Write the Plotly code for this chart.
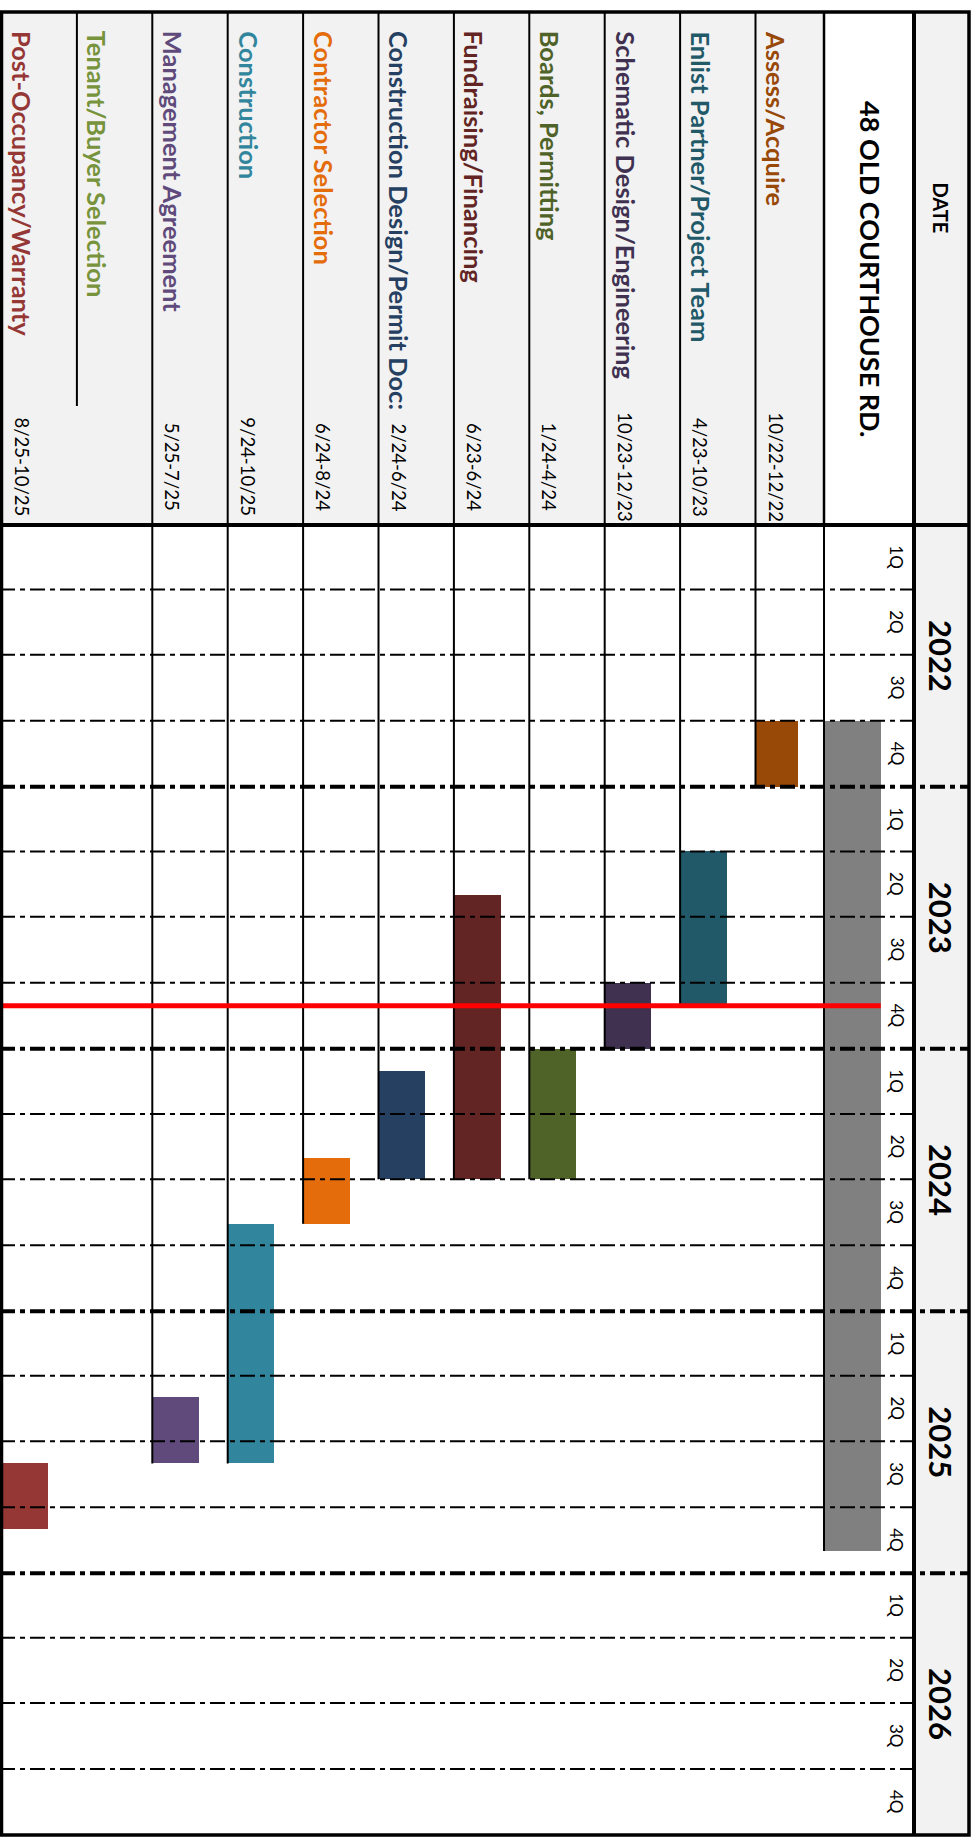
import pandas as pd
import plotly.graph_objects as go

W, H = 978, 1841

# ---------------- data ----------------
tasks = ["Assess/Acquire", "Enlist Partner/Project Team", "Schematic Design/Engineering",
         "Boards, Permitting", "Fundraising/Financing", "Construction Design/Permit Doc:",
         "Contractor Selection", "Construction", "Management Agreement",
         "Tenant/Buyer Selection", "Post-Occupancy/Warranty"]
date_labels = ["10/22-12/22", "4/23-10/23", "10/23-12/23", "1/24-4/24", "6/23-6/24",
               "2/24-6/24", "6/24-8/24", "9/24-10/25", "5/25-7/25", "", "8/25-10/25"]
bar_start = ["2022-10-01", "2023-04-01", "2023-10-01", "2024-01-01", "2023-06-01",
             "2024-02-01", "2024-06-01", "2024-09-01", "2025-05-01", None, "2025-08-01"]
bar_end = ["2023-01-01", "2023-11-01", "2024-01-01", "2024-07-01", "2024-07-01",
           "2024-07-01", "2024-09-01", "2025-08-01", "2025-08-01", None, "2025-11-01"]
colors = ["#984807", "#215968", "#403151", "#4F6228", "#632523", "#254061",
          "#E46C0A", "#31859C", "#604A7B", "#77933C", "#953735"]
project_name = "48 OLD COURTHOUSE RD."
project_start = "2022-10-01"
project_end = "2025-12-01"
project_color = "#808080"
today = "2023-11-02"
years = [2022, 2023, 2024, 2025, 2026]
quarter_labels = ["1Q", "2Q", "3Q", "4Q"]
header_label = "DATE"

# ---------------- layout geometry (pixels) ----------------
LEFT, RIGHT, TOP, BOTTOM = 1.5, 969.0, 12.0, 1835.0
HEAD_BOTTOM = 525.0
DATE_CELL_TOP = 406.0
COL_W = 75.4
TITLE_L, DATE_L = 824.0, 914.0
n = len(tasks)
col_left = [LEFT + COL_W * (n - 1 - i) for i in range(n)]
col_right = [TITLE_L if i == 0 else col_left[i] + COL_W for i in range(n)]
FONT = "Lato, Carlito, Calibri, sans-serif"
DASH = "15px,5px,5px,5px"


def py(p):
    return 1 - p / H


t0 = f"{years[0]}-01-01"
t1 = f"{years[-1] + 1}-01-01"

fig = go.Figure()

# ---------------- bars ----------------
bx, by, bb, bw, bc = [], [], [], [], []
for i in range(n):
    if bar_start[i] is None:
        continue
    s, e = pd.Timestamp(bar_start[i]), pd.Timestamp(bar_end[i])
    w = 0.62 * (col_right[i] - col_left[i])
    bx.append(col_left[i] + w / 2)
    by.append((e - s).total_seconds() * 1000)
    bb.append(bar_start[i])
    bw.append(w)
    bc.append(colors[i])
pw = 0.63 * (DATE_L - TITLE_L)
bx.append(TITLE_L + pw / 2)
by.append((pd.Timestamp(project_end) - pd.Timestamp(project_start)).total_seconds() * 1000)
bb.append(project_start)
bw.append(pw)
bc.append(project_color)
fig.add_trace(go.Bar(x=bx, y=by, base=bb, width=bw, marker=dict(color=bc, line=dict(width=0)),
                     orientation="v", hoverinfo="skip", showlegend=False))

# vertical edge lines from timeline start to the end of each bar
vx, vy = [], []
for i in range(n):
    if bar_end[i] is None or i == n - 1:
        continue
    vx += [col_left[i], col_left[i], None]
    vy += [t0, bar_end[i], None]
vx += [TITLE_L, TITLE_L, None]
vy += [t0, project_end, None]
fig.add_trace(go.Scatter(x=vx, y=vy, mode="lines", line=dict(color="black", width=2),
                         hoverinfo="skip", showlegend=False))

# quarter gridlines and year gridlines
qx, qy, yx, yy = [], [], [], []
for yr in years:
    for q in range(1, 4):
        d = f"{yr}-{3 * q + 1:02d}-01"
        qx += [0, DATE_L, None]
        qy += [d, d, None]
    if yr != years[0]:
        d = f"{yr}-01-01"
        yx += [0, RIGHT, None]
        yy += [d, d, None]
fig.add_trace(go.Scatter(x=qx, y=qy, mode="lines", line=dict(color="black", width=2, dash=DASH),
                         hoverinfo="skip", showlegend=False))
fig.add_trace(go.Scatter(x=yx, y=yy, mode="lines", line=dict(color="black", width=4, dash=DASH),
                         hoverinfo="skip", showlegend=False))

# today line
fig.add_trace(go.Scatter(x=[0, TITLE_L + pw], y=[today, today], mode="lines",
                         line=dict(color="#FF0000", width=5), hoverinfo="skip", showlegend=False))

# ---------------- shapes ----------------
shapes = []
# backgrounds
shapes.append(dict(type="rect", xref="x", yref="paper", x0=LEFT, x1=TITLE_L, y0=py(HEAD_BOTTOM), y1=py(TOP),
                   fillcolor="#F2F2F2", line=dict(width=0), layer="below"))
shapes.append(dict(type="rect", xref="x", yref="paper", x0=DATE_L, x1=RIGHT, y0=py(BOTTOM), y1=py(TOP),
                   fillcolor="#F2F2F2", line=dict(width=0), layer="below"))
# header column separators
for i in range(n):
    if i == n - 1:
        continue
    ybot = DATE_CELL_TOP if i == n - 2 else HEAD_BOTTOM
    shapes.append(dict(type="line", xref="x", yref="paper", x0=col_left[i], x1=col_left[i],
                       y0=py(ybot), y1=py(TOP), line=dict(color="black", width=2), layer="above"))
shapes.append(dict(type="line", xref="x", yref="paper", x0=TITLE_L, x1=TITLE_L,
                   y0=py(HEAD_BOTTOM), y1=py(TOP), line=dict(color="black", width=2.5), layer="above"))
shapes.append(dict(type="line", xref="x", yref="paper", x0=DATE_L, x1=DATE_L,
                   y0=py(BOTTOM), y1=py(TOP), line=dict(color="black", width=4), layer="above"))
shapes.append(dict(type="line", xref="x", yref="paper", x0=LEFT, x1=RIGHT,
                   y0=py(HEAD_BOTTOM), y1=py(HEAD_BOTTOM), line=dict(color="black", width=4), layer="above"))
shapes.append(dict(type="rect", xref="x", yref="paper", x0=LEFT, x1=RIGHT, y0=py(BOTTOM), y1=py(TOP),
                   line=dict(color="black", width=3.5), fillcolor="rgba(0,0,0,0)", layer="above"))

# ---------------- annotations ----------------
ann = []
for i in range(n):
    xc = col_left[i] + 21
    ann.append(dict(text=f"<b>{tasks[i]}</b>", x=xc, y=py(29), xref="x", yref="paper",
                    xanchor="center", yanchor="top", textangle=90, showarrow=False,
                    font=dict(family=FONT, size=25.5, color=colors[i])))
    if date_labels[i]:
        ann.append(dict(text=date_labels[i], x=col_left[i] + 20, y=py(467), xref="x", yref="paper",
                        xanchor="center", yanchor="middle", textangle=90, showarrow=False,
                        font=dict(family=FONT, size=18.5, color="black")))
ann.append(dict(text=f"<b>{project_name}</b>", x=870, y=py(269), xref="x", yref="paper",
                xanchor="center", yanchor="middle", textangle=90, showarrow=False,
                font=dict(family=FONT, size=27, color="black")))
ann.append(dict(text=f"<b>{header_label}</b>", x=940.5, y=py(208), xref="x", yref="paper",
                xanchor="center", yanchor="middle", textangle=90, showarrow=False,
                font=dict(family=FONT, size=20, color="black")))
for yr in years:
    ys, ye = pd.Timestamp(f"{yr}-01-01"), pd.Timestamp(f"{yr + 1}-01-01")
    ann.append(dict(text=f"<b>{yr}</b>", x=941, y=ys + (ye - ys) / 2, xref="x", yref="y",
                    xanchor="center", yanchor="middle", textangle=90, showarrow=False,
                    font=dict(family=FONT, size=31, color="black")))
    for q, ql in enumerate(quarter_labels):
        qs = pd.Timestamp(f"{yr}-{3 * q + 1:02d}-01")
        qe = pd.Timestamp(f"{yr + 1}-01-01") if q == 3 else pd.Timestamp(f"{yr}-{3 * q + 4:02d}-01")
        ann.append(dict(text=ql, x=897, y=qs + (qe - qs) / 2, xref="x", yref="y",
                        xanchor="center", yanchor="middle", textangle=90, showarrow=False,
                        font=dict(family=FONT, size=17, color="black")))

fig.update_layout(
    width=W, height=H, autosize=False,
    margin=dict(l=0, r=0, t=0, b=0, pad=0),
    paper_bgcolor="white", plot_bgcolor="rgba(0,0,0,0)",
    barmode="overlay", bargap=0,
    showlegend=False,
    xaxis=dict(domain=[0, 1], range=[0, W], visible=False, fixedrange=True),
    yaxis=dict(domain=[py(BOTTOM), py(HEAD_BOTTOM)], type="date", range=[t1, t0],
               visible=False, fixedrange=True),
    shapes=shapes, annotations=ann,
    font=dict(family=FONT),
)

fig.write_html("out.html", config={"displayModeBar": False})
